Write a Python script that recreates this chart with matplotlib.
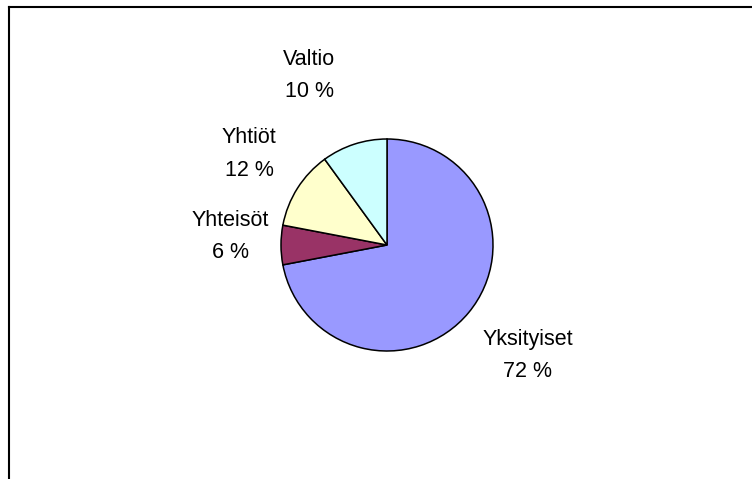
import matplotlib
matplotlib.use("Agg")
import matplotlib.pyplot as plt
import numpy as np
from matplotlib.lines import Line2D

categories = ["Yksityiset", "Yhteisöt", "Yhtiöt", "Valtio"]
values = [72, 6, 12, 10]
colors = ["#9999FF", "#993366", "#FFFFCC", "#CCFFFF"]

plt.rcParams['font.family'] = ['Liberation Sans', 'DejaVu Sans']

W, H = 752, 479
fig = plt.figure(figsize=(W / 100, H / 100), dpi=100)
fig.patch.set_facecolor("white")

cx, cy, r = 387, 245, 106
ax = fig.add_axes([(cx - r) / W, (H - cy - r) / H, 2 * r / W, 2 * r / H])
wedges, _ = ax.pie(values, colors=colors, startangle=90, counterclock=False,
                   radius=1.0,
                   wedgeprops=dict(edgecolor="black", linewidth=1.1))
ax.set_xlim(-1, 1)
ax.set_ylim(-1, 1)
ax.set_aspect("equal")
ax.axis("off")

label_dist = [1.69, 1.48, 1.56, 1.76]
label_dang = [1.5, -3.0, -1.0, 6.6]
for w, name, v, d, da in zip(wedges, categories, values, label_dist, label_dang):
    ang = np.deg2rad((w.theta1 + w.theta2) / 2 + da)
    ax.text(d * np.cos(ang), d * np.sin(ang), f"{name}\n{v} %",
            ha="center", va="center", fontsize=15.5, linespacing=1.7,
            color="black", clip_on=False)

# border (only top and left edges are visible in the crop)
x0, ytop = 9 / W, 1 - 7 / H
fig.add_artist(Line2D([x0, 1.0], [ytop, ytop], transform=fig.transFigure,
                      color="black", linewidth=1.5, solid_capstyle="projecting"))
fig.add_artist(Line2D([x0, x0], [0.0, ytop], transform=fig.transFigure,
                      color="black", linewidth=1.5, solid_capstyle="projecting"))

fig.savefig("out.png", dpi=100, facecolor="white")
